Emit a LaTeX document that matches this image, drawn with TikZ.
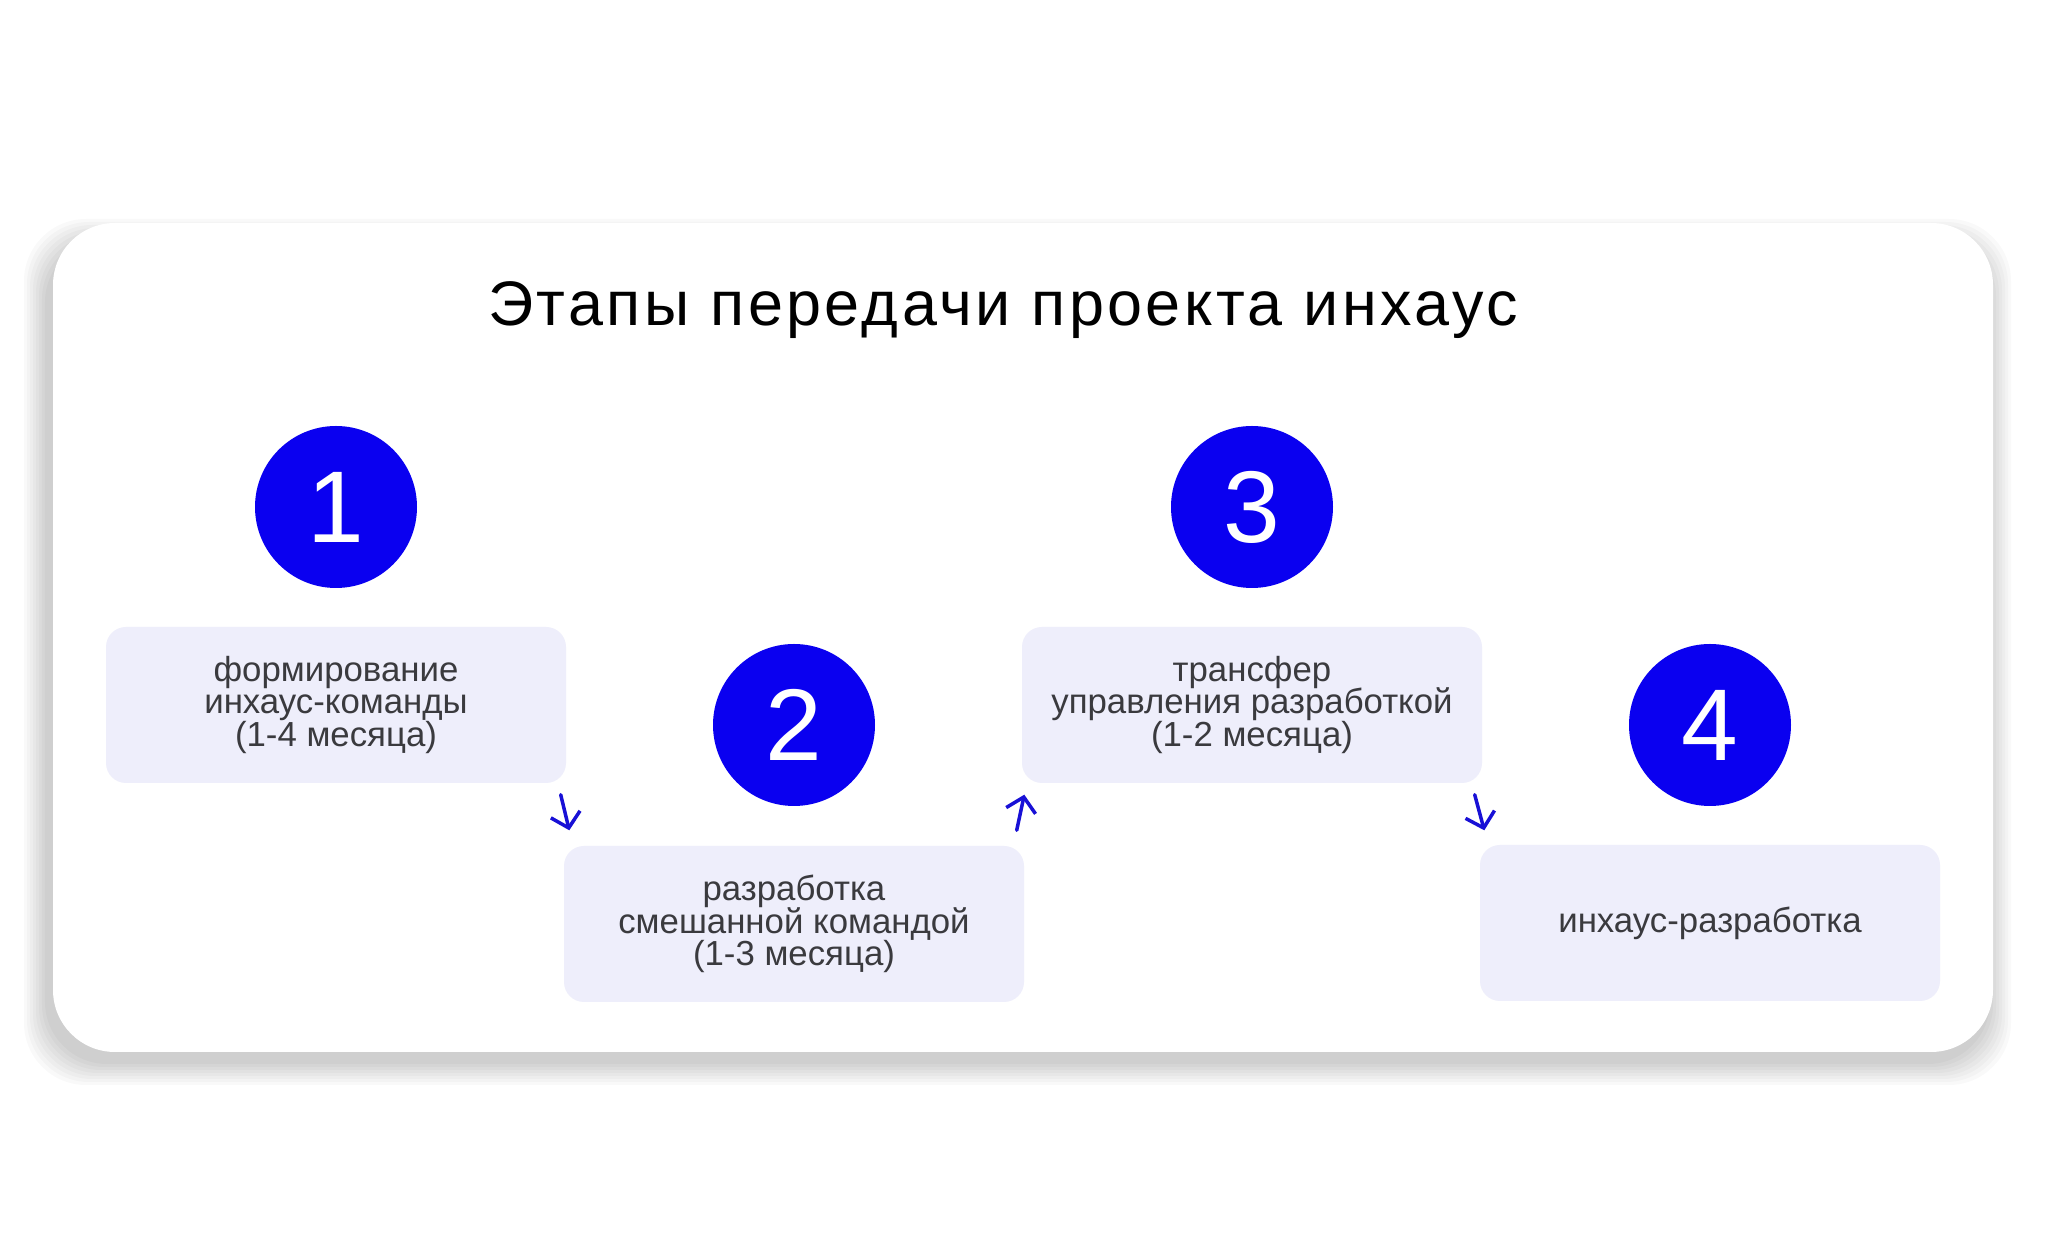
\documentclass[tikz,border=0pt]{standalone}
\usepackage{fontspec}
\setmainfont{Liberation Sans}
\newfontfamily\titlefont[LetterSpace=5.5]{Liberation Sans}
\newcommand\stagefont{\fontsize{9.9}{9.3}\selectfont\lineskiplimit=-5pt\relax}
\usetikzlibrary{arrows.meta}
\definecolor{stageblue}{RGB}{10,0,240}
\definecolor{arrowblue}{RGB}{24,16,214}
\definecolor{boxfill}{RGB}{238,238,251}
\definecolor{boxtext}{RGB}{58,58,62}
\tikzset{
  stagebox/.style={fill=boxfill,rounded corners=0.2cm,minimum width=4.6cm,
    minimum height=1.56cm,align=center,text=boxtext,inner sep=0pt,
    font=\stagefont},
  stagenum/.style={circle,fill=stageblue,minimum size=1.62cm,inner sep=0pt,
    text=white,font=\fontsize{29}{29}\selectfont},
  stagearrow/.style={-{Straight Barb[length=0.14cm,width=0.3cm]},
    line width=0.035cm,arrowblue,line cap=round,line join=round},
}
\begin{document}
\begin{tikzpicture}
		\useasboundingbox[fill=white] (0,0) rectangle (20.48,-12.54);
		% card with soft shadow
		\foreach \s in {0,0.03,...,0.21}
			\fill[black,opacity=0.025,rounded corners=0.62cm]
			(0.45-\s,-2.40+\s) rectangle (19.90+\s,-10.64-\s);
		\fill[white,rounded corners=0.62cm] (0.53,-2.23) rectangle
			(19.93,-10.52);
		\node[anchor=base,font=\titlefont\fontsize{17.9}{20}\selectfont](title)
			at (10.03,-3.26) {Этапы передачи проекта инхаус};
		% stages
		\node[stagebox](b1) at (3.36,-7.05) {формирование\\
			инхаус-команды\\(1-4 месяца)};
		\node[stagenum](n1) at (3.36,-5.07) {1};
		\node[stagebox](b2) at (7.94,-9.24) {разработка\\
			смешанной командой\\(1-3 месяца)};
		\node[stagenum](n2) at (7.94,-7.25) {2};
		\node[stagebox](b3) at (12.52,-7.05) {трансфер\\
			управления разработкой\\(1-2 месяца)};
		\node[stagenum](n3) at (12.52,-5.07) {3};
		\node[stagebox](b4) at (17.10,-9.23) {инхаус-разработка};
		\node[stagenum](n4) at (17.10,-7.25) {4};
		% arrows
		\draw[stagearrow] ([xshift=-0.06cm,yshift=-0.11cm]b1.south east)
			-- ([xshift=0.06cm,yshift=0.15cm]b2.north west);
		\draw[stagearrow] ([xshift=-0.08cm,yshift=0.15cm]b2.north east)
			-- ([xshift=0.03cm,yshift=-0.11cm]b3.south west);
		\draw[stagearrow] ([xshift=-0.08cm,yshift=-0.11cm]b3.south east)
			-- ([xshift=0.05cm,yshift=0.14cm]b4.north west);
\end{tikzpicture}
\end{document}
